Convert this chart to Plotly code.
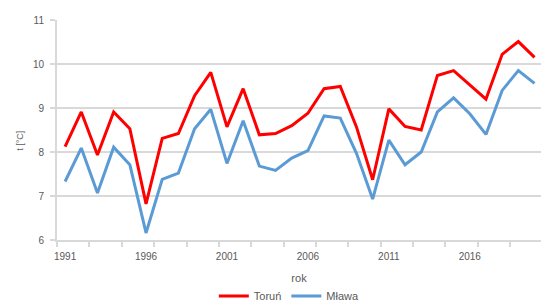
import plotly.graph_objects as go

years = list(range(1991, 2021))
torun = [8.12, 8.91, 7.93, 8.91, 8.53, 6.82, 8.31, 8.42, 9.28, 9.81,
         8.57, 9.44, 8.39, 8.42, 8.6, 8.88, 9.44, 9.49, 8.57, 7.37,
         8.98, 8.58, 8.5, 9.74, 9.85, 9.52, 9.2, 10.22, 10.51, 10.15]
mlawa = [7.33, 8.09, 7.07, 8.11, 7.71, 6.16, 7.38, 7.52, 8.53, 8.97,
         7.74, 8.71, 7.68, 7.58, 7.86, 8.03, 8.82, 8.77, 7.97, 6.93,
         8.27, 7.71, 8.0, 8.91, 9.23, 8.87, 8.4, 9.4, 9.85, 9.56]
xtick_labels = [1991, 1996, 2001, 2006, 2011, 2016]
ytick_vals = [6, 7, 8, 9, 10, 11]

fig = go.Figure()
fig.add_trace(go.Scatter(x=years, y=torun, mode="lines", name="Toruń",
                         line=dict(color="#ff0000", width=3)))
fig.add_trace(go.Scatter(x=years, y=mlawa, mode="lines", name="Mława",
                         line=dict(color="#5b9bd5", width=3)))

tickfont = dict(family="Liberation Sans, Arial, sans-serif", size=10, color="#595959")
fig.update_layout(
    width=541, height=306,
    margin=dict(l=57, r=0, t=20, b=66, autoexpand=False),
    paper_bgcolor="white", plot_bgcolor="white",
    showlegend=True,
    legend=dict(orientation="h", x=0.48, xanchor="center", y=-0.255, yanchor="middle",
                font=dict(family="Liberation Sans, Arial, sans-serif", size=11, color="#595959"),
                bgcolor="rgba(0,0,0,0)", itemwidth=30),
    xaxis=dict(range=[1990.5, 2020.4], tickvals=xtick_labels, ticktext=[str(v) for v in xtick_labels],
               ticks="", showgrid=False, zeroline=False, automargin=False,
               showline=True, linecolor="#d9d9d9", linewidth=2,
               tickfont=tickfont, ticklabelstandoff=6,
               minor=dict(tick0=1990.5, dtick=2, ticks="outside", ticklen=5,
                          tickcolor="#d9d9d9", tickwidth=2, showgrid=False),
               title=dict(text="rok", font=dict(family="Liberation Sans, Arial, sans-serif", size=11, color="#595959"),
                          standoff=13)),
    yaxis=dict(range=[6, 11], tickvals=ytick_vals, showgrid=True, gridcolor="#d9d9d9", gridwidth=2,
               zeroline=False, showline=True, linecolor="#d9d9d9", linewidth=2, automargin=False,
               ticks="outside", ticklen=5, tickcolor="#d9d9d9", tickwidth=2,
               tickfont=tickfont, ticklabelstandoff=4),
)
fig.add_annotation(text="t [°C]", textangle=-90, xref="paper", yref="paper",
                   x=-0.077, y=0.45, xanchor="center", yanchor="middle", showarrow=False,
                   font=dict(family="Liberation Sans, Arial, sans-serif", size=9, color="#595959"))

fig.write_html("out.html", config={"displayModeBar": False},
               post_script="document.body.style.margin='0';document.body.style.padding='0';")
